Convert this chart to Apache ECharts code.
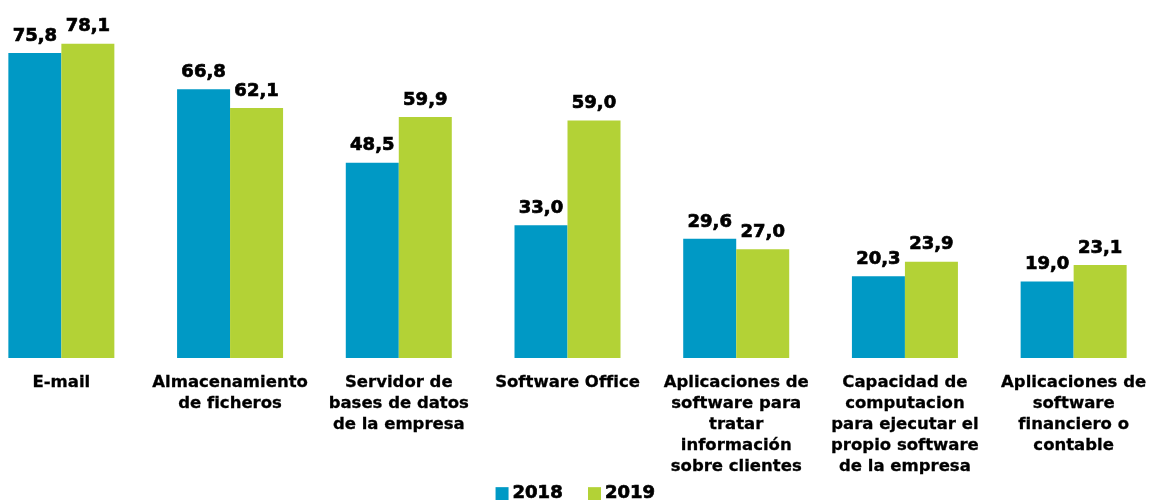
<!DOCTYPE html>
<html lang="es">
<head>
	<meta charset="UTF-8">
	<title>Servicios cloud</title>
	<script src="https://cdn.jsdelivr.net/npm/echarts@6/dist/echarts.min.js"></script>
	<style>
		html, body { margin: 0; padding: 0; background: #fff; }
		#chart { width: 1151px; height: 500px; }
	</style>
</head>
<body>
	<div id="chart"></div>
	<script>
		// datos
		var categorias = [
			'E-mail',
			'Almacenamiento\nde ficheros',
			'Servidor de\nbases de datos\nde la empresa',
			'Software Office',
			'Aplicaciones de\nsoftware para\ntratar\ninformación\nsobre clientes',
			'Capacidad de\ncomputacion\npara ejecutar el\npropio software\nde la empresa',
			'Aplicaciones de\nsoftware\nfinanciero o\ncontable'
		];
		var valores2018 = [75.8, 66.8, 48.5, 33.0, 29.6, 20.3, 19.0];
		var valores2019 = [78.1, 62.1, 59.9, 59.0, 27.0, 23.9, 23.1];

		var fuente = '"DejaVu Sans", Verdana, sans-serif';

		var myChart = echarts.init(document.getElementById('chart'));

		var etiqueta = {
			show: true,
			position: 'top',
			distance: 8,
			color: '#000',
			fontFamily: fuente,
			fontWeight: 'bold',
			fontSize: 18,
			textBorderColor: '#000',
			textBorderWidth: 0.7,
			formatter: function (p) {
				return p.value.toFixed(1).replace('.', ',');
			}
		};

		var option = {
			animation: false,
			grid: {
				left: -23,
				right: -7,
				top: 36,
				bottom: 142,
				containLabel: false,
				outerBoundsMode: 'none'
			},
			legend: {
				bottom: -8,
				left: 'center',
				icon: 'rect',
				itemWidth: 13,
				itemHeight: 13,
				itemGap: 25,
				textStyle: {
					color: '#000',
					fontFamily: fuente,
					fontWeight: 'bold',
					fontSize: 18,
					textBorderColor: '#000',
					textBorderWidth: 0.7,
					padding: [0, 0, 0, -1]
				},
				data: ['2018', '2019']
			},
			xAxis: {
				type: 'category',
				data: categorias,
				axisLine: { show: false },
				axisTick: { show: false },
				axisLabel: {
					interval: 0,
					margin: 14,
					color: '#000',
					fontFamily: fuente,
					fontWeight: 'bold',
					fontSize: 16.5,
					lineHeight: 21,
					textBorderColor: '#000',
					textBorderWidth: 0.3,
					align: 'center',
					verticalAlign: 'top'
				}
			},
			yAxis: {
				type: 'value',
				show: false,
				min: 0,
				max: 80,
				splitLine: { show: false }
			},
			series: [
				{
					name: '2018',
					type: 'bar',
					data: valores2018,
					barWidth: 53,
					barGap: '0%',
					itemStyle: { color: '#0099c5' },
					label: etiqueta
				},
				{
					name: '2019',
					type: 'bar',
					data: valores2019,
					barWidth: 53,
					barGap: '0%',
					itemStyle: { color: '#b3d236' },
					label: etiqueta
				}
			]
		};
		myChart.setOption(option);
	</script>
</body>
</html>
